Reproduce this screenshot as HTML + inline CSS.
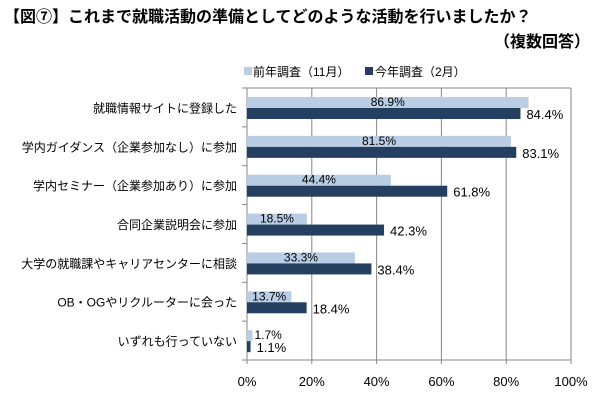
<!DOCTYPE html>
<html><head><meta charset="utf-8"><style>
body{margin:0;background:#fff;width:600px;height:400px;overflow:hidden;font-family:"Liberation Sans","Noto Sans CJK JP",sans-serif;}
</style></head><body>
<svg width="600" height="400" xmlns="http://www.w3.org/2000/svg" font-family="Liberation Sans, Noto Sans CJK JP, sans-serif">
<text x="4" y="22" font-size="16" font-weight="bold" fill="#000">【図⑦】これまで就職活動の準備としてどのような活動を行いましたか？</text>
<text x="590" y="47" font-size="16" font-weight="bold" text-anchor="end" fill="#000">（複数回答）</text>
<rect x="244" y="67" width="8" height="8" fill="#b9cde5"/>
<text x="253" y="76" font-size="12">前年調査（11月）</text>
<rect x="365" y="67" width="8" height="8" fill="#243f60"/>
<text x="375" y="76" font-size="12">今年調査（2月）</text>
<g id="plot"></g>
</svg>
<script>
const categories=["就職情報サイトに登録した","学内ガイダンス（企業参加なし）に参加","学内セミナー（企業参加あり）に参加","合同企業説明会に参加","大学の就職課やキャリアセンターに相談","OB・OGやリクルーターに会った","いずれも行っていない"];
const prevValues=[86.9,81.5,44.4,18.5,33.3,13.7,1.7];
const currValues=[84.4,83.1,61.8,42.3,38.4,18.4,1.1];
const tickValues=[0,20,40,60,80,100];
const NS="http://www.w3.org/2000/svg";
const g=document.getElementById('plot');
const X0=247,X1=571,Y0=88,Y1=360;
const band=(Y1-Y0)/categories.length;
const xs=v=>X0+(X1-X0)*v/100;
function mk(t,a,txt){const e=document.createElementNS(NS,t);for(const k in a)e.setAttribute(k,a[k]);if(txt!==undefined)e.textContent=txt;g.appendChild(e);return e;}
tickValues.forEach(v=>{
 const l=mk('line',{x1:xs(v),x2:xs(v),y1:Y0,y2:Y1+4,stroke:'#868686','stroke-width':1});
 
 
 const t=mk('text',{x:xs(v),y:Y1+26,'font-size':13,'text-anchor':'middle'},v+'%');
 
 
});
const plotTop=mk('line',{x1:X0,x2:X1,y1:Y0,y2:Y0,stroke:'#868686'});


const plotBot=mk('line',{x1:X0-4,x2:X1,y1:Y1,y2:Y1,stroke:'#868686'});


for(let i=0;i<=categories.length;i++){
 const t=mk('line',{x1:X0-5,x2:X0,y1:Y0+i*band,y2:Y0+i*band,stroke:'#868686'});
 
 
}
categories.forEach((c,i)=>{
 const yb=Y0+i*band;
 const lab=mk('text',{x:237,y:yb+band/2+5,'font-size':12,'text-anchor':'end'},c);
 
 
 const p=prevValues[i],q=currValues[i];
 const r1=mk('rect',{x:X0,y:yb+9,width:xs(p)-X0,height:11,fill:'#b9cde5'});
 
 
 const r2=mk('rect',{x:X0,y:yb+20,width:xs(q)-X0,height:11,fill:'#243f60'});
 
 
 const t1=mk('text',{x:p<10?xs(p)+2:(X0+xs(p))/2,y:yb+18,'font-size':12,'text-anchor':p<10?'start':'middle'},p.toFixed(1)+'%');
 
 
 const t2=mk('text',{x:xs(q)+6,y:yb+31,'font-size':13},q.toFixed(1)+'%');
 
 
});
</script>
</body></html>
